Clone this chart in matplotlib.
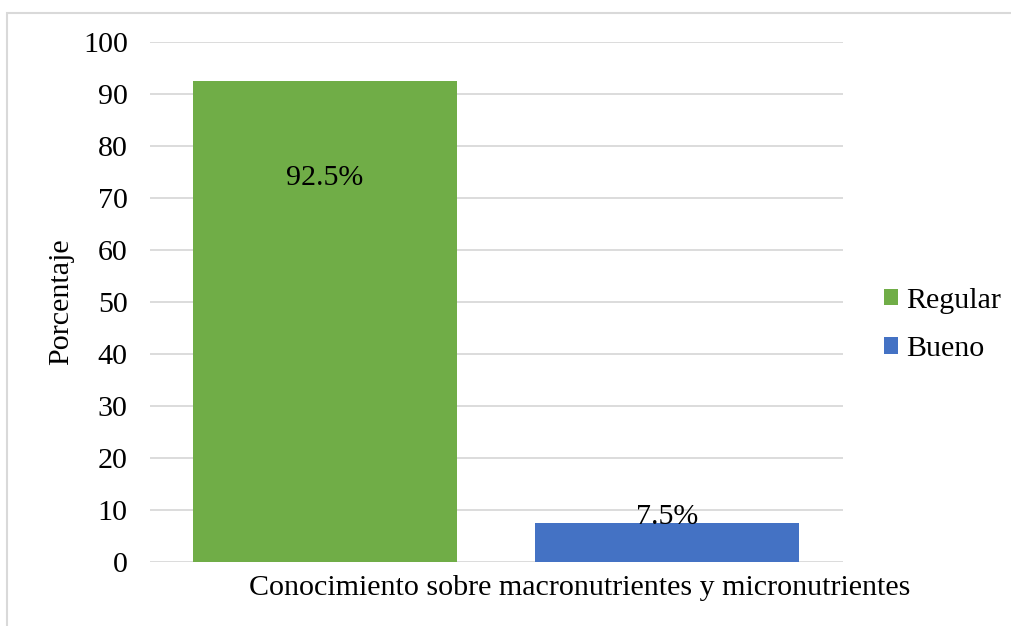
import matplotlib.pyplot as plt
from matplotlib.patches import Rectangle

series = ["Regular", "Bueno"]
values = [92.5, 7.5]
labels = ["92.5%", "7.5%"]
colors = ["#70AD47", "#4472C4"]
category = "Conocimiento sobre macronutrientes y micronutrientes"
yticks = list(range(0, 101, 10))

plt.rcParams['font.family'] = ['Liberation Serif', 'DejaVu Serif']
fs = 21.6

fig = plt.figure(figsize=(10.11, 6.26), dpi=100)
ax = fig.add_axes([150 / 1011, 1 - 562 / 626, 693 / 1011, 520 / 626])

xpos = [0.2525, 0.7465]
bars = ax.bar(xpos, values, width=0.381, color=colors, label=series, zorder=2)

# data labels (placed like the original: inside for the tall bar, on top for the short one)
ax.text(xpos[0], values[0] - 18.6, labels[0], ha='center', va='center', fontsize=fs, zorder=3)
ax.text(xpos[1], values[1] + 1.1, labels[1], ha='center', va='center', fontsize=fs, zorder=3)

ax.set_xlim(0, 1)
ax.set_ylim(0, 100)
ax.set_yticks(yticks)
ax.set_xticks([])
ax.tick_params(axis='y', length=0, labelsize=fs, pad=16)
ax.grid(axis='y', color='#D9D9D9', linewidth=1.3, zorder=0)
for s in ax.spines.values():
    s.set_visible(False)

ax.set_ylabel("Porcentaje", fontsize=fs, labelpad=6)
fig.text(580 / 1011, 1 - 588 / 626, category, ha='center', va='center', fontsize=fs)

leg = fig.legend(handles=bars, labels=series, loc='center left',
                 bbox_to_anchor=(884 / 1011, 1 - 325 / 626), frameon=False,
                 fontsize=fs, handlelength=0.48, handleheight=0.48, handletextpad=0.27,
                 labelspacing=0.75, borderpad=0, borderaxespad=0)

# light chart border
fig.patches.append(Rectangle((7 / 1011, -0.05), 1.1, 1 - 13 / 626 + 0.05,
                             transform=fig.transFigure, fill=False,
                             edgecolor='#D9D9D9', linewidth=1.5))

fig.savefig("out.png", dpi=100)
